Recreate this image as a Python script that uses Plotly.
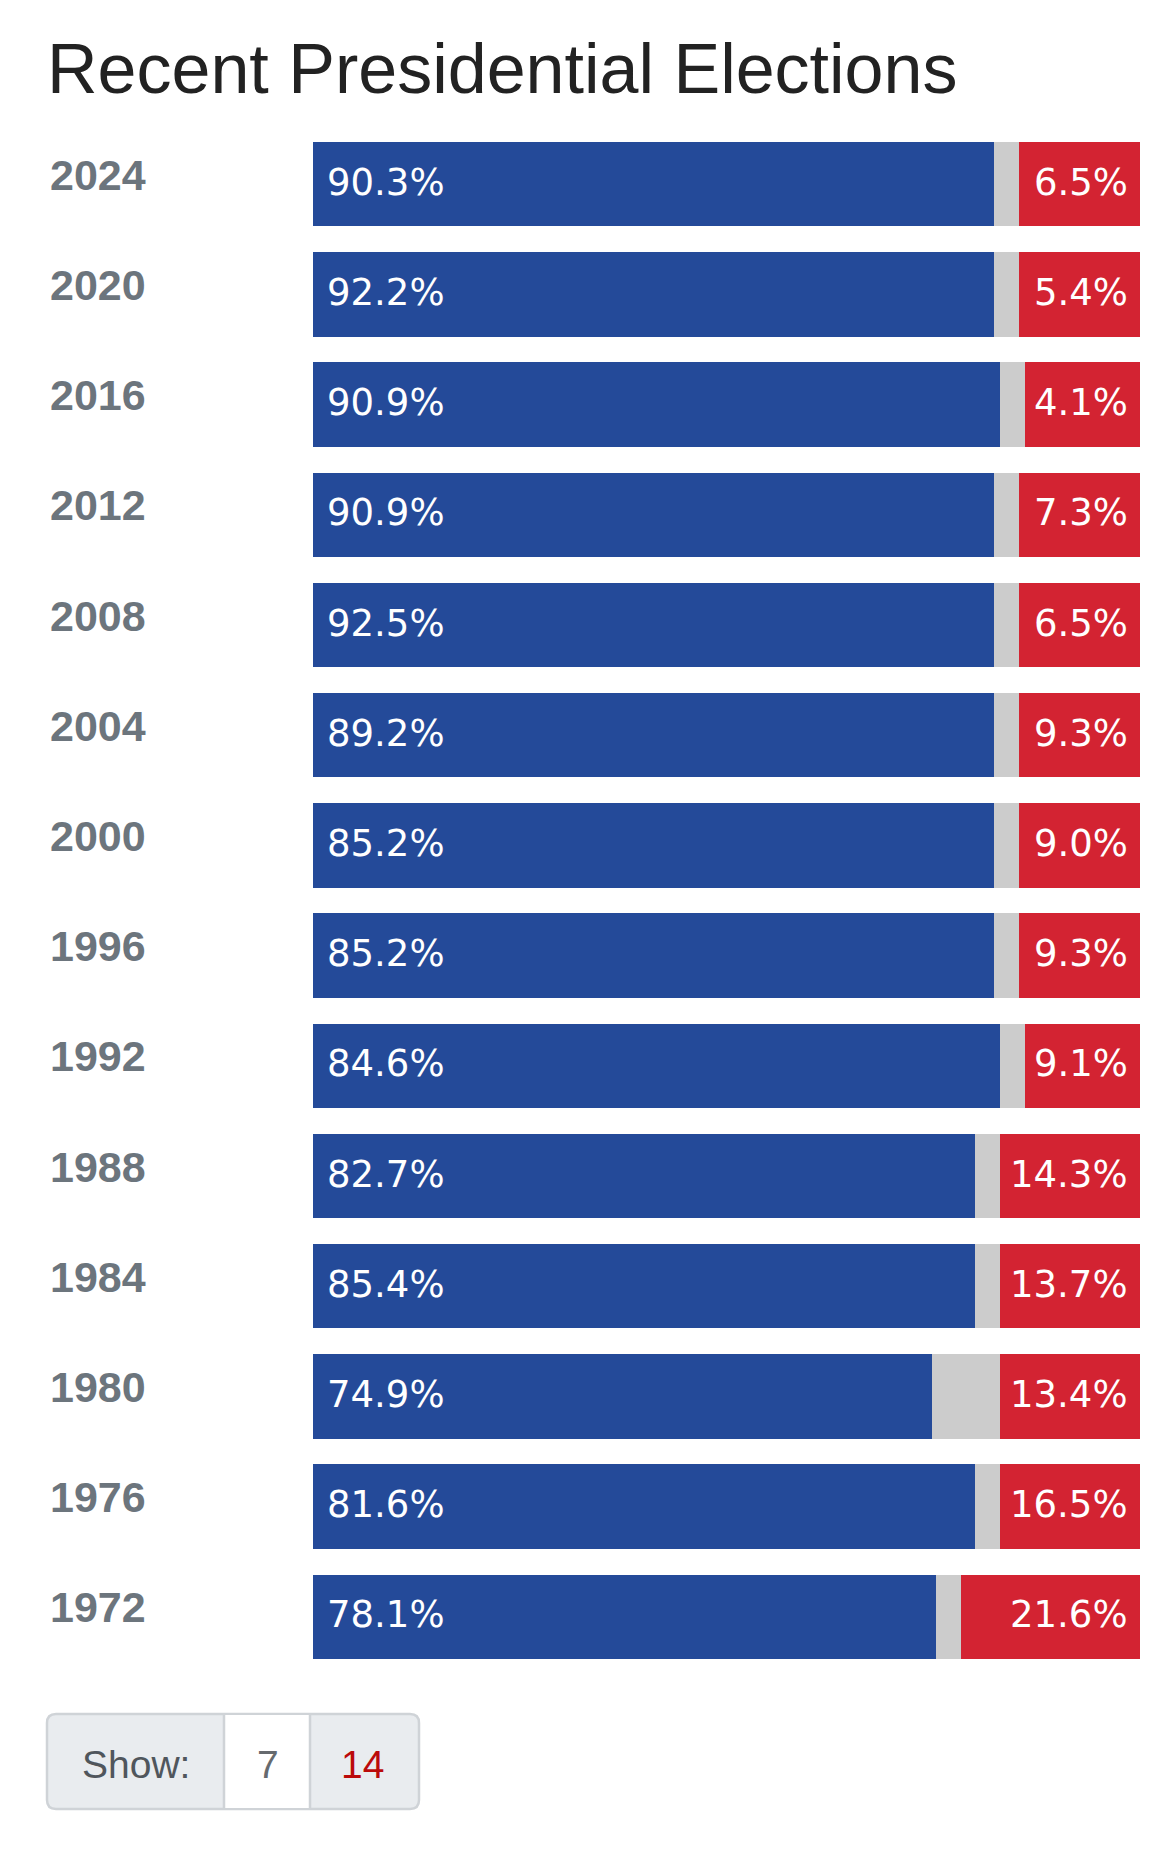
import plotly.graph_objects as go

# ---- data ----
years = ["2024", "2020", "2016", "2012", "2008", "2004", "2000",
         "1996", "1992", "1988", "1984", "1980", "1976", "1972"]
dem_pct = [90.3, 92.2, 90.9, 90.9, 92.5, 89.2, 85.2,
           85.2, 84.6, 82.7, 85.4, 74.9, 81.6, 78.1]
rep_pct = [6.5, 5.4, 4.1, 7.3, 6.5, 9.3, 9.0,
           9.3, 9.1, 14.3, 13.7, 13.4, 16.5, 21.6]
show_options = ["7", "14"]

# ---- layout constants (pixels) ----
W, H = 1170, 1862
BAR_X0, BAR_X1 = 305, 1132
SPAN = BAR_X1 - BAR_X0
PITCH, BAR_H = 110.2, 84.4
FIRST_BAR_TOP = 134
ROW_TOP = FIRST_BAR_TOP - (PITCH - BAR_H) / 2
ROW_BOTTOM = ROW_TOP + PITCH * 14
BLUE = "#244a99"
RED = "#d32332"
GRAY = "#cccccc"
FONT = "Liberation Sans"
LABEL_FONT = "DejaVu Sans"

# display rule: red segment at least wide enough for its label, gray gap at least 3%
CHAR_PX = {"1": 19, ".": 11, "%": 36}
def label_min_pct(txt):
    px = 24 + sum(CHAR_PX.get(c, 25) for c in txt)
    return px / SPAN * 100

GRAY_MIN = 25 / SPAN * 100
dem_lab = [f"{v:.1f}%" for v in dem_pct]
rep_lab = [f"{v:.1f}%" for v in rep_pct]
red_w, blue_w, gray_w = [], [], []
for d, r, lab in zip(dem_pct, rep_pct, rep_lab):
    rw = max(r, label_min_pct(lab))
    bw = min(d, 100 - rw - GRAY_MIN)
    red_w.append(rw)
    blue_w.append(bw)
    gray_w.append(100 - rw - bw)

fig = go.Figure()
for vals, col in ((blue_w, BLUE), (gray_w, GRAY), (red_w, RED)):
    fig.add_trace(go.Bar(
        y=years, x=vals, orientation="h", marker=dict(color=col, line=dict(width=0)),
        hoverinfo="skip", showlegend=False))

def py(px):
    return 1 - px / H

annotations = []
annotations.append(dict(
    text="Recent Presidential Elections", xref="paper", yref="paper",
    x=37 / W, y=py(61), xanchor="left", yanchor="middle", showarrow=False,
    font=dict(family=FONT, size=70, color="#222222")))
for i, (yr, dl, rl) in enumerate(zip(years, dem_lab, rep_lab)):
    annotations.append(dict(
        text=yr, xref="paper", yref="y", x=40 / W, y=i, yshift=9.5,
        xanchor="left", yanchor="middle", showarrow=False,
        font=dict(family=FONT, size=43, color="#6c757d", weight="bold")))
    annotations.append(dict(
        text=dl, xref="x", yref="y", x=0, y=i, xshift=12, yshift=2,
        xanchor="left", yanchor="middle", showarrow=False,
        font=dict(family=LABEL_FONT, size=37, color="white")))
    annotations.append(dict(
        text=rl, xref="x", yref="y", x=100, y=i, xshift=-10, yshift=2,
        xanchor="right", yanchor="middle", showarrow=False,
        font=dict(family=LABEL_FONT, size=37, color="white")))

# "Show:" toggle control
BX0, BX1, BY0, BY1 = 39, 411, 1706, 1801
S1, S2 = 216, 302
R = 9
BORDER = "#cfd3d7"
def rrect(x0, x1, y0, y1, r):
    X = lambda v: v / W
    Y = lambda v: py(v)
    return (f"M {X(x0 + r)} {Y(y0)} L {X(x1 - r)} {Y(y0)} "
            f"Q {X(x1)} {Y(y0)} {X(x1)} {Y(y0 + r)} L {X(x1)} {Y(y1 - r)} "
            f"Q {X(x1)} {Y(y1)} {X(x1 - r)} {Y(y1)} L {X(x0 + r)} {Y(y1)} "
            f"Q {X(x0)} {Y(y1)} {X(x0)} {Y(y1 - r)} L {X(x0)} {Y(y0 + r)} "
            f"Q {X(x0)} {Y(y0)} {X(x0 + r)} {Y(y0)} Z")
shapes = [
    dict(type="path", xref="paper", yref="paper", path=rrect(BX0, BX1, BY0, BY1, R),
         fillcolor="#e9ecef", line=dict(color=BORDER, width=2.5), layer="above"),
    dict(type="rect", xref="paper", yref="paper", x0=S1 / W, x1=S2 / W,
         y0=py(BY1 - 1), y1=py(BY0 + 1), fillcolor="white", line=dict(width=0), layer="above"),
    dict(type="line", xref="paper", yref="paper", x0=S1 / W, x1=S1 / W,
         y0=py(BY1), y1=py(BY0), line=dict(color=BORDER, width=2.5), layer="above"),
    dict(type="line", xref="paper", yref="paper", x0=S2 / W, x1=S2 / W,
         y0=py(BY1), y1=py(BY0), line=dict(color=BORDER, width=2.5), layer="above"),
]
bmid = 1756
annotations.append(dict(text="Show:", xref="paper", yref="paper", x=128 / W, y=py(bmid),
                        showarrow=False, xanchor="center", yanchor="middle",
                        font=dict(family=FONT, size=39, color="#50565c")))
annotations.append(dict(text=show_options[0], xref="paper", yref="paper", x=259.5 / W, y=py(bmid),
                        showarrow=False, xanchor="center", yanchor="middle",
                        font=dict(family=FONT, size=39, color="#666a6e")))
annotations.append(dict(text=show_options[1], xref="paper", yref="paper", x=354 / W, y=py(bmid),
                        showarrow=False, xanchor="center", yanchor="middle",
                        font=dict(family=FONT, size=39, color="#bb0a0a")))

fig.update_layout(
    width=W, height=H, autosize=False,
    margin=dict(l=0, r=0, t=0, b=0, pad=0),
    paper_bgcolor="white", plot_bgcolor="white",
    barmode="stack", bargap=1 - BAR_H / PITCH,
    xaxis=dict(range=[0, 100], domain=[BAR_X0 / W, BAR_X1 / W], visible=False, fixedrange=True),
    yaxis=dict(type="category", categoryorder="array", categoryarray=years,
               range=[len(years) - 0.5, -0.5], autorange=False,
               domain=[py(ROW_BOTTOM), py(ROW_TOP)], visible=False, fixedrange=True),
    annotations=annotations, shapes=shapes,
)

fig.write_html("out.html", config={"displayModeBar": False})
